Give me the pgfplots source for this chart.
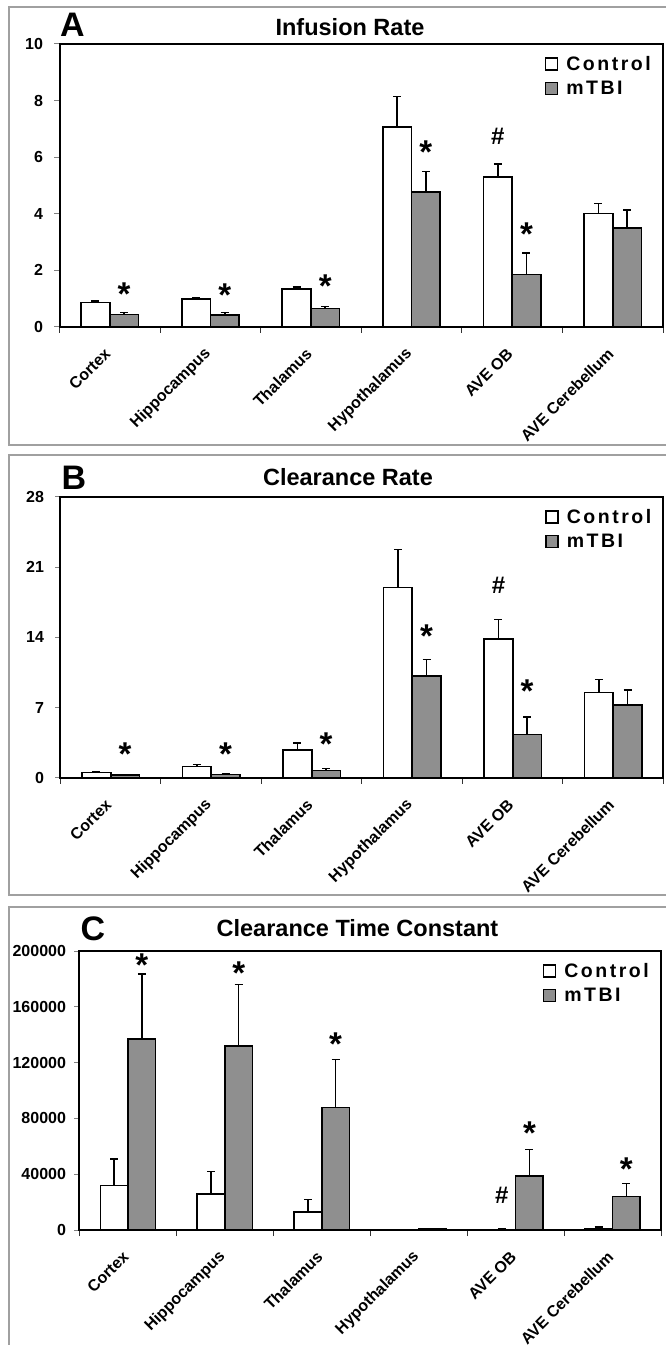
\documentclass[border=0pt]{standalone}
\usepackage{fontspec}
\setmainfont{Liberation Sans}
\usepackage{pgfplots}
\pgfplotsset{compat=1.18}

\definecolor{barfill}{HTML}{8F8F8F}
\definecolor{framegray}{HTML}{A0A0A0}

\newcommand\tickfont{\bfseries\fontsize{16}{16}\selectfont}
\newcommand\legfont{\bfseries\fontsize{19.5}{20}\selectfont\addfontfeature{LetterSpace=13}}
\newcommand\titlefont{\bfseries\fontsize{23.5}{24}\selectfont}
\newcommand\letterfont{\bfseries\fontsize{34}{34}\selectfont}

\tikzset{
  sigstar/.style={font=\bfseries\fontsize{33}{33}\selectfont, inner sep=0pt, yshift=-5.5pt},
  sighash/.style={font=\bfseries\fontsize{24}{24}\selectfont, inner sep=0pt},
}

\pgfplotsset{
  panel/.style={
    scale only axis,
    ybar=0pt, bar width=0.285,
    xmin=-0.5, xmax=5.5, ymin=0,
    xtick={0,...,5},
    xticklabels={Cortex,Hippocampus,Thalamus,Hypothalamus,AVE OB,AVE Cerebellum},
    minor xtick={-0.5,0.5,...,5.5},
    major x tick style={draw=none},
    minor x tick style={black!80, line width=1pt},
    minor tick length=6pt,
    major tick length=5pt,
    y tick style={black!50, line width=1pt},
    tick align=outside, tick pos=left,
    axis line style={line width=2pt},
    /pgf/number format/fixed,
    /pgf/number format/assume math mode=true,
    /pgf/number format/set thousands separator={},
    scaled y ticks=false,
    yticklabel style={font=\tickfont, xshift=-8pt},
    % shifts first, so they act on the unrotated frame
    xticklabel style={font=\tickfont, xshift=-2pt, yshift=-19pt, rotate=45, anchor=east, inner sep=0pt},
    clip=false,
    legend style={draw=none, fill=none, at={(1,1)}, anchor=north east,
      xshift=-10pt, yshift=-10pt, font=\legfont, row sep=5pt, column sep=6pt,
      inner sep=0pt, nodes={inner sep=2pt}},
    legend cell align=left,
  },
  bars/.style={draw=black, line width=1.6pt,
    legend image code/.code={\draw[##1,/tikz/.cd,line width=1.3pt] (0pt,-6pt) rectangle (12pt,6pt);},
    error bars/y dir=plus, error bars/y explicit,
    error bars/error bar style={line width=1.6pt, black},
    error bars/error mark options={rotate=90, mark size=4pt, line width=1.6pt, black}},
  ctrl/.style={bars, fill=white},
  mtbi/.style={bars, fill=barfill},
}

\begin{document}
\begin{tikzpicture}[x=1pt,y=1pt]
\useasboundingbox (0pt,0pt) rectangle (666pt,1345pt);

% panel frames
\draw[framegray, line width=1.5pt] (672,1338) -- (9,1338) -- (9,900) -- (672,900);
\draw[framegray, line width=1.5pt] (672,890) -- (9,890) -- (9,450) -- (672,450);
\draw[framegray, line width=1.5pt] (672,438) -- (9,438) -- (9,-5);

% A: infusion rate
\begin{axis}[panel, at={(59.5pt,1018pt)}, anchor=south west,
  width=603.5pt, height=283pt, ymax=10, ytick={0,2,...,10}]
\addplot[ctrl] coordinates {(0,0.86) +- (0,0.06) (1,0.99) +- (0,0.05) (2,1.34) +- (0,0.08)
  (3,7.06) +- (0,1.09) (4,5.29) +- (0,0.46) (5,4.01) +- (0,0.36)};
\addplot[mtbi] coordinates {(0,0.44) +- (0,0.07) (1,0.42) +- (0,0.09) (2,0.65) +- (0,0.08)
  (3,4.76) +- (0,0.74) (4,1.85) +- (0,0.76) (5,3.49) +- (0,0.65)};
\legend{Control,mTBI}
\node[sigstar] at (axis cs:0.1425,1.36) {*};
\node[sigstar] at (axis cs:1.1425,1.31) {*};
\node[sigstar] at (axis cs:2.1425,1.64) {*};
\node[sigstar] at (axis cs:3.1425,6.37) {*};
\node[sigstar] at (axis cs:4.1425,3.49) {*};
\node[sighash] at (axis cs:3.8575,6.72) {\#};
\end{axis}

% B: clearance rate
\begin{axis}[panel, at={(60.5pt,567pt)}, anchor=south west,
  width=603pt, height=281pt, ymax=28, ytick={0,7,14,21,28}]
\addplot[ctrl] coordinates {(0,0.53) +- (0,0.10) (1,1.16) +- (0,0.20) (2,2.76) +- (0,0.73)
  (3,19.0) +- (0,3.76) (4,13.85) +- (0,1.96) (5,8.50) +- (0,1.33)};
\addplot[mtbi] coordinates {(0,0.27) +- (0,0.06) (1,0.33) +- (0,0.10) (2,0.73) +- (0,0.20)
  (3,10.17) +- (0,1.62) (4,4.35) +- (0,1.73) (5,7.28) +- (0,1.49)};
\legend{Control,mTBI}
\node[sigstar] at (axis cs:0.1425,2.89) {*};
\node[sigstar] at (axis cs:1.1425,2.92) {*};
\node[sigstar] at (axis cs:2.1425,3.95) {*};
\node[sigstar] at (axis cs:3.1425,14.7) {*};
\node[sigstar] at (axis cs:4.1425,9.17) {*};
\node[sighash] at (axis cs:3.8575,19.2) {\#};
\end{axis}

% C: clearance time constant
\begin{axis}[panel, at={(79.5pt,115pt)}, anchor=south west,
  width=581.5pt, height=279pt, ymax=200000, ytick={0,40000,...,200000},
  yticklabel style={xshift=3pt}]
\addplot[ctrl] coordinates {(0,32000) +- (0,18900) (1,25800) +- (0,16200) (2,13100) +- (0,8900)
  (3,150) +- (0,100) (4,400) +- (0,150) (5,1200) +- (0,1000)};
\addplot[mtbi] coordinates {(0,136900) +- (0,46400) (1,131700) +- (0,44400) (2,87700) +- (0,34600)
  (3,600) +- (0,400) (4,38700) +- (0,18900) (5,24100) +- (0,9100)};
\legend{Control,mTBI}
\node[sigstar] at (axis cs:0.1425,193500) {*};
\node[sigstar] at (axis cs:1.1425,188300) {*};
\node[sigstar] at (axis cs:2.1425,136900) {*};
\node[sigstar] at (axis cs:4.1425,73600) {*};
\node[sigstar] at (axis cs:5.1425,47300) {*};
\node[sighash] at (axis cs:3.8575,25100) {\#};
\end{axis}

% titles and panel letters
\node[font=\titlefont, anchor=base, inner sep=0pt] at (350,1309) {Infusion Rate};
\node[font=\titlefont, anchor=base, inner sep=0pt] at (348,859) {Clearance Rate};
\node[font=\titlefont, anchor=base, inner sep=0pt] at (357.5,408) {Clearance Time Constant};
\node[font=\letterfont, anchor=base west, inner sep=0pt] at (60,1308) {A};
\node[font=\letterfont, anchor=base west, inner sep=0pt] at (61.5,855) {B};
\node[font=\letterfont, anchor=base west, inner sep=0pt] at (80.5,404) {C};
\end{tikzpicture}
\end{document}
